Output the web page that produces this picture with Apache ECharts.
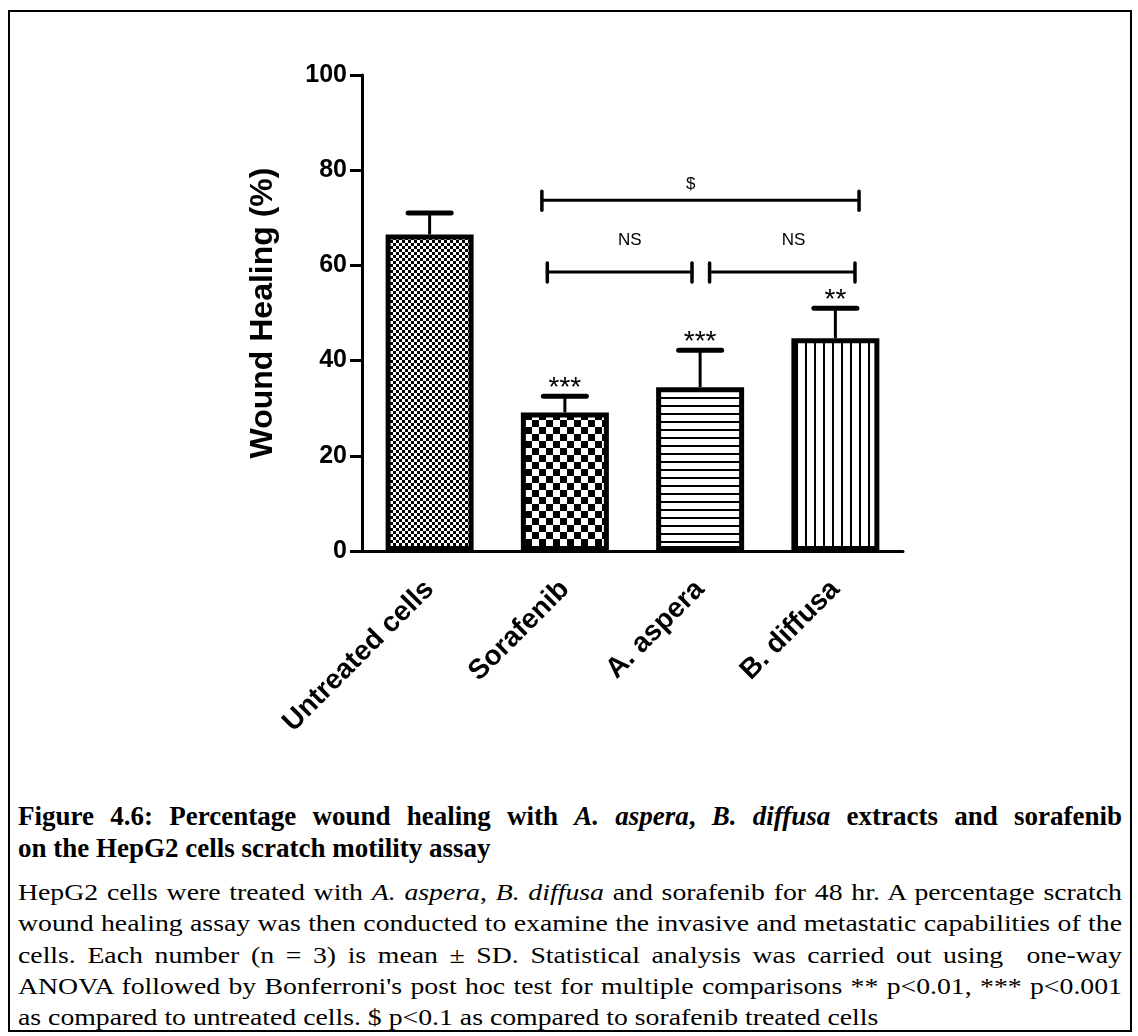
<!DOCTYPE html>
<html>
<head>
<meta charset="utf-8">
<script src="https://cdn.jsdelivr.net/npm/echarts@6/dist/echarts.min.js"></script>
<style>
  html, body { margin: 0; padding: 0; background: #fff; }
  #frame {
    position: absolute; left: 8px; top: 10px; width: 1124px; height: 1022px;
    border: 2px solid #000; box-sizing: border-box;
  }
  #chart { position: absolute; left: 0; top: 0; width: 1138px; height: 780px; }
  .cap {
    position: absolute; left: 18px;
    font-family: 'Liberation Serif', 'Times New Roman', serif; color: #000;
    transform-origin: left top;
  }
  .cap div { white-space: nowrap; text-align: justify; text-align-last: justify; }
  .cap div.last { text-align-last: left; }
  #title { top: 800px; width: 1104px; font-weight: bold; font-size: 27px; line-height: 32px; }
  #body { top: 877px; width: 895px; font-size: 22.5px; line-height: 31.3px; transform: scaleX(1.2335); }
</style>
</head>
<body>
<div id="frame"></div>
<div id="chart"></div>
<div id="title" class="cap">
  <div>Figure 4.6: Percentage wound healing with <i>A. aspera</i>, <i>B. diffusa</i> extracts and sorafenib</div>
  <div class="last">on the HepG2 cells scratch motility assay</div>
</div>
<div id="body" class="cap">
  <div>HepG2 cells were treated with <i>A. aspera</i>, <i>B. diffusa</i> and sorafenib for 48 hr. A percentage scratch</div>
  <div>wound healing assay was then conducted to examine the invasive and metastatic capabilities of the</div>
  <div>cells. Each number (n = 3) is mean ± SD. Statistical analysis was carried out using &nbsp;one-way</div>
  <div>ANOVA followed by Bonferroni's post hoc test for multiple comparisons ** p&lt;0.01, *** p&lt;0.001</div>
  <div class="last">as compared to untreated cells. $ p&lt;0.1 as compared to sorafenib treated cells</div>
</div>
<script>
  // data
  var groups = ['Untreated cells', 'Sorafenib', 'A. aspera', 'B. diffusa'];
  var meanValues = [66.5, 29.1, 34.4, 44.7];
  var upperValues = [71.0, 32.5, 42.2, 51.0];
  var stars = ['', '***', '***', '**'];
  var yTicks = [0, 20, 40, 60, 80, 100];

  // comparison brackets: [from, to, height, label x, label y]
  var bracketLines = [
    [0.83, 3.175, 73.7, 1.93, 77.0],
    [0.87, 1.94, 58.6, 1.48, 65.2],
    [2.07, 3.145, 58.6, 2.69, 65.2]
  ];
  var bracketLabels = ['$', 'NS', 'NS'];

  var sans = "'Liberation Sans', Arial, sans-serif";

  function makePattern(kind) {
    var c = document.createElement('canvas');
    var ctx;
    if (kind === 'fine') {
      c.width = 6; c.height = 6;
      ctx = c.getContext('2d');
      ctx.fillStyle = '#fff'; ctx.fillRect(0, 0, 6, 6);
      ctx.fillStyle = '#000'; ctx.fillRect(0, 0, 3, 3); ctx.fillRect(3, 3, 3, 3);
    } else if (kind === 'coarse') {
      c.width = 14; c.height = 14;
      ctx = c.getContext('2d');
      ctx.fillStyle = '#fff'; ctx.fillRect(0, 0, 14, 14);
      ctx.fillStyle = '#000'; ctx.fillRect(0, 0, 7, 7); ctx.fillRect(7, 7, 7, 7);
    } else if (kind === 'hline') {
      c.width = 8; c.height = 8;
      ctx = c.getContext('2d');
      ctx.fillStyle = '#fff'; ctx.fillRect(0, 0, 8, 8);
      ctx.fillStyle = '#000'; ctx.fillRect(0, 5, 8, 2);
    } else {
      c.width = 9; c.height = 9;
      ctx = c.getContext('2d');
      ctx.fillStyle = '#fff'; ctx.fillRect(0, 0, 9, 9);
      ctx.fillStyle = '#000'; ctx.fillRect(4, 0, 2, 9);
    }
    return { image: c, repeat: 'repeat' };
  }
  var patterns = [makePattern('fine'), makePattern('coarse'), makePattern('hline'), makePattern('vline')];

  var myChart = echarts.init(document.getElementById('chart'), null, { renderer: 'canvas' });
  var option;

  option = {
    animation: false,
    grid: { left: 362, top: 75, width: 541, height: 476 },
    xAxis: [
      {
        type: 'category',
        data: groups,
        axisLine: { lineStyle: { color: '#000', width: 3 } },
        axisTick: { alignWithLabel: true, length: 11, lineStyle: { color: '#000', width: 3 } },
        axisLabel: {
          rotate: 45, margin: 34, color: '#000',
          fontFamily: sans, fontWeight: 'bold', fontSize: 28
        }
      },
      { type: 'value', min: -0.5, max: 3.5, show: false }
    ],
    yAxis: {
      type: 'value', min: 0, max: 100, interval: 20,
      name: 'Wound Healing (%)',
      nameLocation: 'middle', nameRotate: 90, nameGap: 83,
      nameTextStyle: { fontFamily: sans, fontWeight: 'bold', fontSize: 32, color: '#000' },
      splitLine: { show: false },
      axisLine: { show: true, onZero: false, lineStyle: { color: '#000', width: 3 } },
      axisTick: { show: true, length: 12, lineStyle: { color: '#000', width: 3 } },
      axisLabel: {
        margin: 15, color: '#000', fontFamily: sans, fontWeight: 'bold', fontSize: 25,
        customValues: yTicks
      }
    },
    series: [
      {
        type: 'bar',
        barWidth: 88,
        z: 2,
        data: meanValues.map(function (v, i) {
          return { value: v, itemStyle: { color: patterns[i], borderColor: '#000', borderWidth: 5 } };
        })
      },
      {
        // SD error bars with significance stars
        type: 'custom',
        z: 3,
        data: meanValues.map(function (v, i) { return [i, v, upperValues[i]]; }),
        renderItem: function (params, api) {
          var base = api.coord([api.value(0), api.value(1)]);
          var top = api.coord([api.value(0), api.value(2)]);
          return {
            type: 'group',
            children: [
              { type: 'line', shape: { x1: base[0], y1: base[1], x2: base[0], y2: top[1] },
                style: { stroke: '#000', lineWidth: 3 } },
              { type: 'line', shape: { x1: base[0] - 21.5, y1: top[1], x2: base[0] + 21.5, y2: top[1] },
                style: { stroke: '#000', lineWidth: 5, lineCap: 'round' } },
              { type: 'text', x: base[0], y: top[1] + 6,
                style: { text: stars[params.dataIndex], fill: '#000', font: '28px ' + sans,
                         textAlign: 'center', textVerticalAlign: 'bottom' } }
            ]
          };
        }
      },
      {
        // comparison brackets
        type: 'custom',
        xAxisIndex: 1,
        z: 3,
        data: bracketLines,
        renderItem: function (params, api) {
          var a = api.coord([api.value(0), api.value(2)]);
          var b = api.coord([api.value(1), api.value(2)]);
          var t = api.coord([api.value(3), api.value(4)]);
          return {
            type: 'group',
            children: [
              { type: 'line', shape: { x1: a[0], y1: a[1], x2: b[0], y2: b[1] },
                style: { stroke: '#000', lineWidth: 3 } },
              { type: 'line', shape: { x1: a[0], y1: a[1] - 9, x2: a[0], y2: a[1] + 10 },
                style: { stroke: '#000', lineWidth: 3.5, lineCap: 'round' } },
              { type: 'line', shape: { x1: b[0], y1: b[1] - 9, x2: b[0], y2: b[1] + 10 },
                style: { stroke: '#000', lineWidth: 3.5, lineCap: 'round' } },
              { type: 'text', x: t[0], y: t[1],
                style: { text: bracketLabels[params.dataIndex], fill: '#000', font: '17px ' + sans,
                         textAlign: 'center', textVerticalAlign: 'middle' } }
            ]
          };
        }
      }
    ]
  };
  option && myChart.setOption(option);
</script>
</body>
</html>
